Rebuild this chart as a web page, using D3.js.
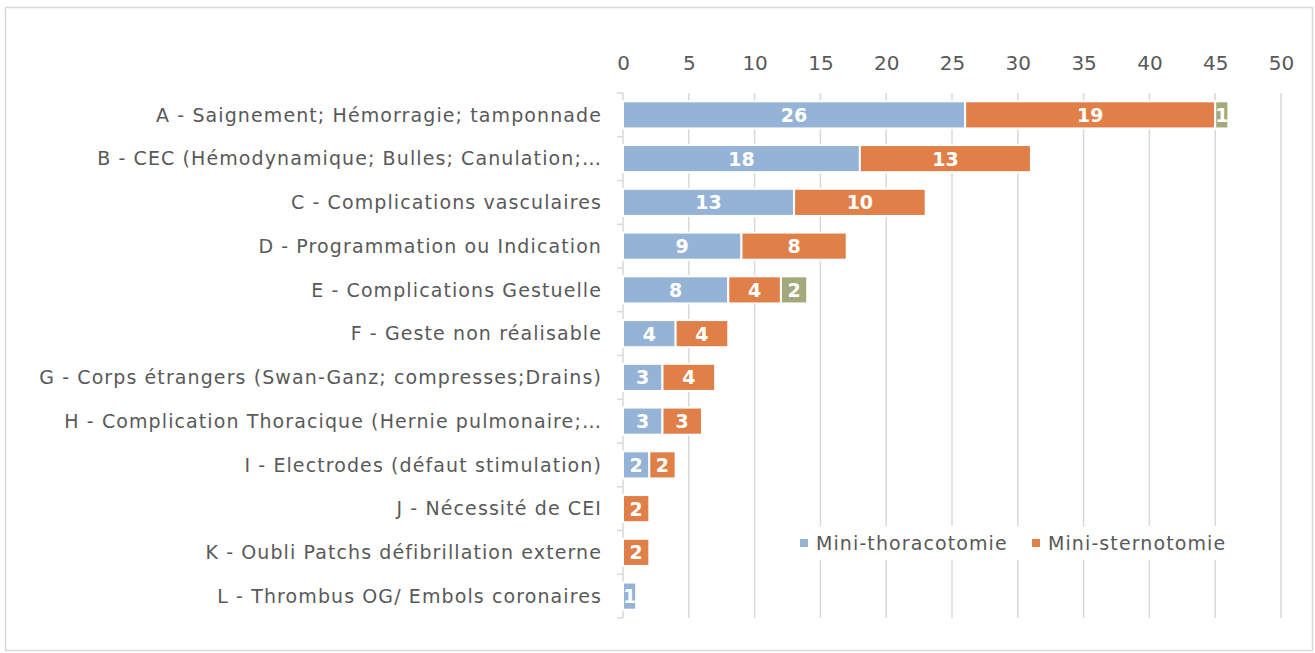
<!DOCTYPE html>
<html>
<head>
<meta charset="utf-8">
<script src="https://cdn.jsdelivr.net/npm/d3@7"></script>
<style>
  body { margin: 0; background: #fff; }
  svg { display: block; font-family: "DejaVu Sans", sans-serif; }
</style>
</head>
<body>
<div id="chart"></div>
<script>
const categories = [
  "A - Saignement; Hémorragie; tamponnade",
  "B - CEC (Hémodynamique; Bulles; Canulation;…",
  "C - Complications vasculaires",
  "D - Programmation ou Indication",
  "E - Complications Gestuelle",
  "F - Geste non réalisable",
  "G - Corps étrangers (Swan-Ganz; compresses;Drains)",
  "H - Complication Thoracique (Hernie pulmonaire;…",
  "I - Electrodes (défaut stimulation)",
  "J - Nécessité de CEI",
  "K - Oubli Patchs défibrillation externe",
  "L - Thrombus OG/ Embols coronaires"
];
const seriesNames = ["Mini-thoracotomie", "Mini-sternotomie", "Autre"];
const thoracotomie = [26, 18, 13, 9, 8, 4, 3, 3, 2, 0, 0, 1];
const sternotomie  = [19, 13, 10, 8, 4, 4, 4, 3, 2, 2, 2, 0];
const autre        = [1, 0, 0, 0, 2, 0, 0, 0, 0, 0, 0, 0];
const xTicks = [0, 5, 10, 15, 20, 25, 30, 35, 40, 45, 50];
const colors = ["#95b3d7", "#e07f47", "#a4a97c"];

const W = 1315, H = 653;
const margin = { top: 93, right: 34, bottom: 35, left: 623 };

const svg = d3.select("#chart").append("svg")
  .attr("width", W).attr("height", H);

// outer frame
svg.append("rect")
  .attr("x", 5.5).attr("y", 7.5)
  .attr("width", W - 8).attr("height", H - 10)
  .attr("fill", "none").attr("stroke", "#d9d9d9").attr("stroke-width", 1.5);

const x = d3.scaleLinear().domain([0, 50]).range([margin.left, W - margin.right]);
const y = d3.scaleBand().domain(categories)
  .range([margin.top, H - margin.bottom]).paddingInner(0.38).paddingOuter(0.19);

// gridlines
svg.append("g")
  .selectAll("line")
  .data(xTicks.slice(1))
  .join("line")
    .attr("x1", d => x(d)).attr("x2", d => x(d))
    .attr("y1", margin.top).attr("y2", H - margin.bottom)
    .attr("stroke", "#d9d9d9").attr("stroke-width", 1.5);

// top tick labels
const xAxis = svg.append("g")
  .attr("transform", `translate(0,${margin.top - 23})`)
  .call(d3.axisTop(x).tickValues(xTicks).tickSize(0).tickPadding(0));
xAxis.select(".domain").remove();
xAxis.selectAll("text")
  .attr("fill", "#595959").attr("font-size", 20).attr("font-family", "DejaVu Sans");

// y axis with category ticks on band boundaries
svg.append("line")
  .attr("x1", margin.left).attr("x2", margin.left)
  .attr("y1", margin.top).attr("y2", H - margin.bottom)
  .attr("stroke", "#d9d9d9").attr("stroke-width", 1.5);
const bounds = d3.range(categories.length + 1).map(i => margin.top + i * (H - margin.bottom - margin.top) / categories.length);
svg.append("g").selectAll("line")
  .data(bounds)
  .join("line")
    .attr("x1", margin.left - 6).attr("x2", margin.left)
    .attr("y1", d => d).attr("y2", d => d)
    .attr("stroke", "#d9d9d9").attr("stroke-width", 1.5);

svg.append("g").selectAll("text")
  .data(categories)
  .join("text")
    .attr("x", margin.left - 21)
    .attr("y", d => y(d) + y.bandwidth() / 2)
    .attr("dy", "0.36em")
    .attr("text-anchor", "end")
    .attr("fill", "#595959")
    .attr("font-size", 19)
    .attr("letter-spacing", "1.1px")
    .text(d => d);

// stacked bars
const rows = categories.map((c, i) => ({ cat: c, s0: thoracotomie[i], s1: sternotomie[i], s2: autre[i] }));
const stack = d3.stack().keys(["s0", "s1", "s2"])(rows);

const layers = svg.append("g").selectAll("g")
  .data(stack)
  .join("g")
    .attr("fill", (d, i) => colors[i]);

layers.selectAll("rect")
  .data(d => d.filter(p => p[1] - p[0] > 0))
  .join("rect")
    .attr("x", p => x(p[0]))
    .attr("y", p => y(p.data.cat))
    .attr("width", p => x(p[1]) - x(p[0]))
    .attr("height", y.bandwidth())
    .attr("stroke", "#fff").attr("stroke-width", 2);

layers.selectAll("text")
  .data(d => d.filter(p => p[1] - p[0] > 0))
  .join("text")
    .attr("x", p => (x(p[0]) + x(p[1])) / 2)
    .attr("y", p => y(p.data.cat) + y.bandwidth() / 2)
    .attr("dy", "0.37em")
    .attr("text-anchor", "middle")
    .attr("fill", "#fff")
    .attr("font-weight", "bold")
    .attr("font-size", 19)
    .text(p => p[1] - p[0]);

// legend (two series only)
const legend = svg.append("g").attr("transform", "translate(790,526)");
legend.append("rect").attr("width", 440).attr("height", 34).attr("fill", "#fff");
const items = [{ name: seriesNames[0], c: colors[0], x: 10 }, { name: seriesNames[1], c: colors[1], x: 242 }];
items.forEach(it => {
  legend.append("rect").attr("x", it.x).attr("y", 13).attr("width", 8).attr("height", 8).attr("fill", it.c);
  legend.append("text").attr("x", it.x + 16).attr("y", 17).attr("dy", "0.36em")
    .attr("fill", "#595959").attr("font-size", 19).attr("letter-spacing", "1.1px").text(it.name);
});
</script>
</body>
</html>
